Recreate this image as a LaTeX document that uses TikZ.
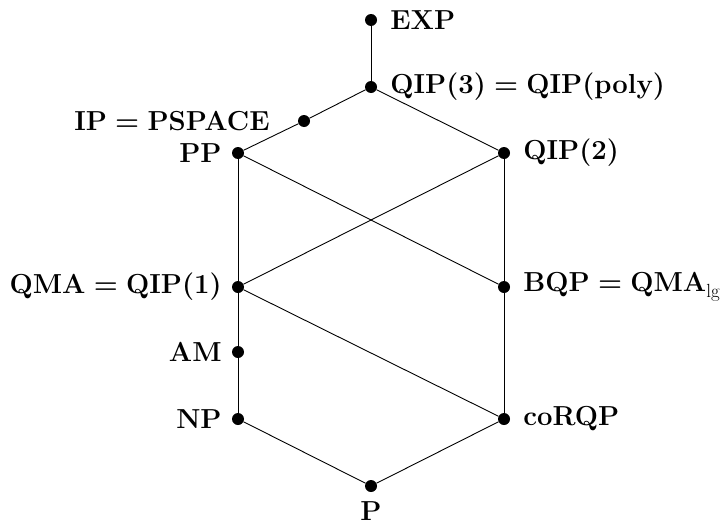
\documentclass[tikz,border=0pt]{standalone}
\newcommand{\eqsign}{\hskip0.3em=\hskip0.3em}
\begin{document}
\begin{tikzpicture}[x=1pt,y=-1pt,
  dot/.style={circle,fill=black,inner sep=0pt,minimum size=12pt},
  lbl/.style={inner sep=1pt,font=\fontsize{27.5}{32}\selectfont\bfseries},
  rl/.style={lbl,label distance=12pt},
  ll/.style={lbl,label distance=9pt},
  edge/.style={draw=black,line width=0.9pt}]
\useasboundingbox (0,0) rectangle (726,525);
\node[dot,label={[rl]right:EXP}] (exp) at (371,20) {};
\node[dot,label={[rl]right:QIP(3)\eqsign QIP(poly)}] (qip3) at (371,87) {};
\node[dot,label={[ll,xshift=-18pt]left:IP\eqsign PSPACE}] (ip) at (304,121) {};
\node[dot,label={[ll]left:PP}] (pp) at (238,153) {};
\node[dot,label={[rl]right:QIP(2)}] (qip2) at (504,153) {};
\node[dot,label={[ll]left:QMA\eqsign QIP(1)}] (qma) at (238,287) {};
\node[dot,label={[rl]right:BQP\eqsign QMA\raisebox{-0.2em}{\fontsize{19}{21}\selectfont\mdseries lg}}] (bqp) at (504,287) {};
\node[dot,label={[ll]left:AM}] (am) at (238,352) {};
\node[dot,label={[ll]left:NP}] (np) at (238,419) {};
\node[dot,label={[rl]right:coRQP}] (corqp) at (504,419) {};
\node[dot,label={[lbl,label distance=8pt]below:P}] (p) at (371,486) {};
\path[edge] (exp) -- (qip3);
\path[edge] (qip3) -- (ip);
\path[edge] (ip) -- (pp);
\path[edge] (qip3) -- (qip2);
\path[edge] (pp) -- (qma);
\path[edge] (pp) -- (bqp);
\path[edge] (qip2) -- (qma);
\path[edge] (qip2) -- (bqp);
\path[edge] (qma) -- (am);
\path[edge] (am) -- (np);
\path[edge] (qma) -- (corqp);
\path[edge] (bqp) -- (corqp);
\path[edge] (np) -- (p);
\path[edge] (corqp) -- (p);
\end{tikzpicture}
\end{document}
